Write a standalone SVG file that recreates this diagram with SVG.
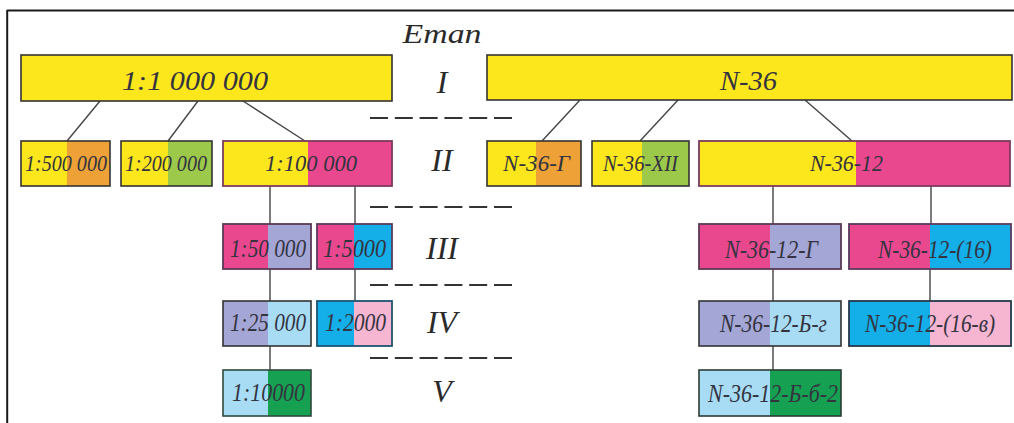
<svg xmlns="http://www.w3.org/2000/svg" width="1014" height="423" viewBox="0 0 1014 423">
<style>
.frame{stroke:#1a1a1a;stroke-width:2;fill:none}
.bd{fill:none;stroke:#333;stroke-width:1.6}
.bp{fill:none;stroke:#7d3a5e;stroke-width:1.8}
.bb{fill:none;stroke:#1d5472;stroke-width:1.8}
.y{fill:#fce71c}.o{fill:#eda136}.g{fill:#9dc94a}.p{fill:#e9488f}.l{fill:#a4a6d6}
.b{fill:#14aee8}.lb{fill:#a8dcf5}.lp{fill:#f6b5d0}.dg{fill:#16a052}
.t{font-family:"Liberation Serif","DejaVu Serif",serif;font-style:italic;fill:#33343f}
.t1{font-size:28px}.t2{font-size:24px}.t3{font-size:25px}
.r{font-family:"Liberation Serif","DejaVu Serif",serif;font-style:italic;font-size:32px;fill:#2a2a2a;text-anchor:middle}
.c{stroke:#454545;stroke-width:1.4;fill:none}
.d{stroke:#333;stroke-width:2;stroke-dasharray:18 6.8;fill:none}
</style>
<rect width="1014" height="423" fill="#fff"/>
<path class="frame" d="M7,10.5H1014M7.2,10V423"/>
<text class="r" x="442" y="43" textLength="79" lengthAdjust="spacingAndGlyphs" style="font-size:27px">Eman</text>
<text class="r" x="442" y="93">I</text>
<text class="r" x="442" y="171">II</text>
<text class="r" x="442" y="259">III</text>
<text class="r" x="442" y="333">IV</text>
<text class="r" x="442" y="402">V</text>
<g id="connectors">
<path class="d" d="M370,118H512M370,207H512M370,285H512M370,358H512"/>
<path class="c" d="M100,101L67,141M198,101L168,141M243,101L305,141"/>
<path class="c" d="M580,100L542,141M678,100L640,141M805,100L852,141"/>
<path class="c" d="M270,186V224M355,186V224M270,269V301M355,269V301M270,346V370"/>
<path class="c" d="M773,186V224M931,186V224M773,269V301M930,269V301M773,346V370"/>
</g>
<g id="n1"><rect class="y" x="21" y="55" width="371" height="46"/><rect class="bd" x="21" y="55" width="371" height="46"/><text class="t t1" x="122" y="90" textLength="146" lengthAdjust="spacingAndGlyphs">1:1 000 000</text></g>
<g id="n2"><rect class="y" x="487" y="55" width="525" height="45"/><rect class="bd" x="487" y="55" width="525" height="45"/><text class="t t1" x="720" y="90" textLength="57" lengthAdjust="spacingAndGlyphs">N-36</text></g>
<g id="n3"><rect class="y" x="21" y="141" width="46" height="45"/><rect class="o" x="67" y="141" width="43" height="45"/><rect class="bd" x="21" y="141" width="89" height="45"/><text class="t t2" x="25" y="171" textLength="82" lengthAdjust="spacingAndGlyphs">1:500 000</text></g>
<g id="n4"><rect class="y" x="121" y="141" width="47" height="45"/><rect class="g" x="168" y="141" width="44" height="45"/><rect class="bd" x="121" y="141" width="91" height="45"/><text class="t t2" x="125" y="171" textLength="82" lengthAdjust="spacingAndGlyphs">1:200 000</text></g>
<g id="n5"><rect class="y" x="223" y="141" width="85" height="45"/><rect class="p" x="308" y="141" width="84" height="45"/><rect class="bp" x="223" y="141" width="169" height="45"/><text class="t t2" x="265" y="171" textLength="92" lengthAdjust="spacingAndGlyphs">1:100 000</text></g>
<g id="n6"><rect class="y" x="487" y="141" width="49" height="45"/><rect class="o" x="536" y="141" width="45" height="45"/><rect class="bd" x="487" y="141" width="94" height="45"/><text class="t t2" x="503" y="171" textLength="67" lengthAdjust="spacingAndGlyphs">N-36-Г</text></g>
<g id="n7"><rect class="y" x="592" y="141" width="50" height="45"/><rect class="g" x="642" y="141" width="47" height="45"/><rect class="bd" x="592" y="141" width="97" height="45"/><text class="t t2" x="603" y="171" textLength="75" lengthAdjust="spacingAndGlyphs">N-36-XII</text></g>
<g id="n8"><rect class="y" x="699" y="141" width="157" height="45"/><rect class="p" x="856" y="141" width="154" height="45"/><rect class="bp" x="699" y="141" width="311" height="45"/><text class="t t2" x="810" y="171" textLength="73" lengthAdjust="spacingAndGlyphs">N-36-12</text></g>
<g id="n9"><rect class="p" x="223" y="224" width="45" height="45"/><rect class="l" x="268" y="224" width="43" height="45"/><rect class="bp" x="223" y="224" width="88" height="45" style="stroke:#5a3a55"/><text class="t t3" x="230" y="257" textLength="76" lengthAdjust="spacingAndGlyphs">1:50 000</text></g>
<g id="n10"><rect class="p" x="317" y="224" width="37" height="45"/><rect class="b" x="354" y="224" width="38" height="45"/><rect class="bp" x="317" y="224" width="75" height="45" style="stroke:#5a3a5e"/><text class="t t3" x="323" y="257" textLength="63" lengthAdjust="spacingAndGlyphs">1:5000</text></g>
<g id="n11"><rect class="p" x="699" y="224" width="71" height="45"/><rect class="l" x="770" y="224" width="71" height="45"/><rect class="bp" x="699" y="224" width="142" height="45" style="stroke:#5a3a55"/><text class="t t3" x="725" y="258" textLength="93" lengthAdjust="spacingAndGlyphs">N-36-12-Г</text></g>
<g id="n12"><rect class="p" x="849" y="224" width="81" height="45"/><rect class="b" x="930" y="224" width="81" height="45"/><rect class="bp" x="849" y="224" width="162" height="45" style="stroke:#5a3a5e"/><text class="t t3" x="878" y="258" textLength="114" lengthAdjust="spacingAndGlyphs">N-36-12-(16)</text></g>
<g id="n13"><rect class="l" x="223" y="301" width="45" height="45"/><rect class="lb" x="268" y="301" width="43" height="45"/><rect class="bd" x="223" y="301" width="88" height="45"/><text class="t t3" x="230" y="331" textLength="76" lengthAdjust="spacingAndGlyphs">1:25 000</text></g>
<g id="n14"><rect class="b" x="317" y="301" width="37" height="45"/><rect class="lp" x="354" y="301" width="38" height="45"/><rect class="bb" x="317" y="301" width="75" height="45"/><text class="t t3" x="325" y="331" textLength="61" lengthAdjust="spacingAndGlyphs">1:2000</text></g>
<g id="n15"><rect class="l" x="699" y="301" width="71" height="45"/><rect class="lb" x="770" y="301" width="71" height="45"/><rect class="bd" x="699" y="301" width="142" height="45"/><text class="t t3" x="720" y="332" textLength="107" lengthAdjust="spacingAndGlyphs">N-36-12-Б-г</text></g>
<g id="n16"><rect class="b" x="849" y="301" width="81" height="45"/><rect class="lp" x="930" y="301" width="81" height="45"/><rect class="bb" x="849" y="301" width="162" height="45" style="stroke:#24384a"/><text class="t t3" x="865" y="332" textLength="130" lengthAdjust="spacingAndGlyphs">N-36-12-(16-в)</text></g>
<g id="n17"><rect class="lb" x="223" y="370" width="45" height="46"/><rect class="dg" x="268" y="370" width="43" height="46"/><rect class="bd" x="223" y="370" width="88" height="46" style="stroke:#2f4a3e"/><text class="t t3" x="232" y="401" textLength="73" lengthAdjust="spacingAndGlyphs">1:10000</text></g>
<g id="n18"><rect class="lb" x="699" y="370" width="71" height="46"/><rect class="dg" x="770" y="370" width="71" height="46"/><rect class="bd" x="699" y="370" width="142" height="46" style="stroke:#2a3d35"/><text class="t t3" x="708" y="402" textLength="130" lengthAdjust="spacingAndGlyphs">N-36-12-Б-б-2</text></g>
</svg>
